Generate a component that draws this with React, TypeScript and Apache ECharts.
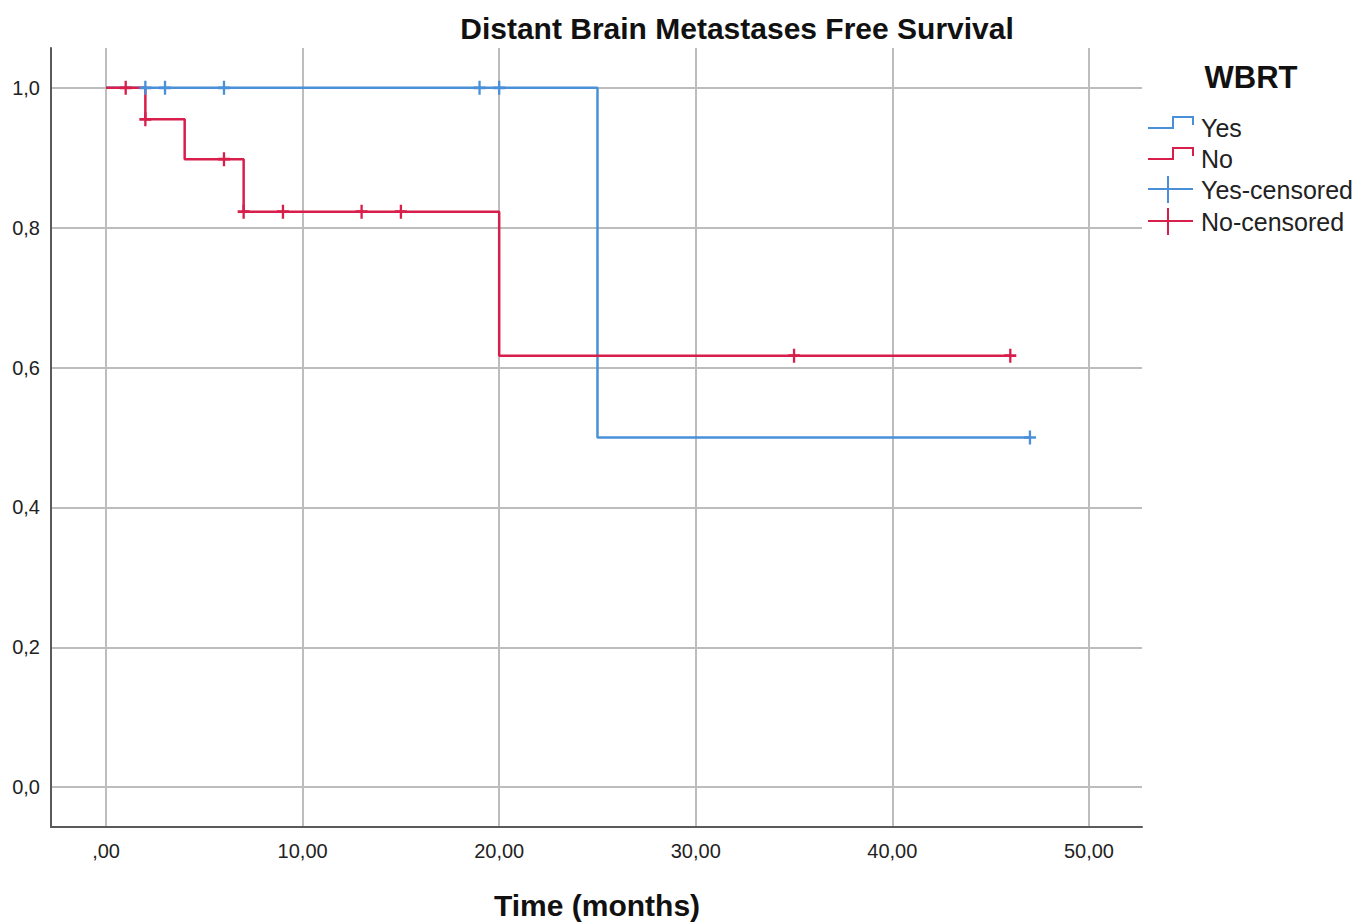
import React, { useEffect, useRef } from "react";
import * as echarts from "echarts";

// Kaplan-Meier step points (time, survival)
const yesTimes = [0, 25, 47];
const yesSurv = [1.0, 0.5, 0.5];
const noTimes = [0, 2, 4, 7, 20, 46];
const noSurv = [1.0, 0.955, 0.898, 0.823, 0.617, 0.617];

// Censored observations
const yesCensorTimes = [2, 3, 6, 19, 20, 47];
const yesCensorSurv = [1.0, 1.0, 1.0, 1.0, 1.0, 0.5];
const noCensorTimes = [1, 2, 6, 7, 9, 13, 15, 35, 46];
const noCensorSurv = [1.0, 0.955, 0.898, 0.823, 0.823, 0.823, 0.823, 0.617, 0.617];

const xTicks = [0, 10, 20, 30, 40, 50];
const yTicks = [0, 0.2, 0.4, 0.6, 0.8, 1.0];

const legendTitle = "WBRT";
const legendLabels = ["Yes", "No", "Yes-censored", "No-censored"];

const BLUE = "#4a90d9";
const RED = "#d81e4b";
const FONT = "Liberation Sans, Arial, sans-serif";

const zip = (a: number[], b: number[]) => a.map((v, i) => [v, b[i]]);

export default function App() {
  const ref = useRef<HTMLDivElement>(null);
  useEffect(() => {
    if (!ref.current) return;
    const chart = echarts.init(ref.current, null, { renderer: "svg" });
    const censorSymbol = "path://M0,7 L12,7 M6,0 L6,14";
    const legendY = [127, 158, 189, 221];
    const legendGraphics: any[] = [];
    legendLabels.forEach((lab, i) => {
      const y = legendY[i];
      const color = i % 2 === 0 ? BLUE : RED;
      if (i < 2) {
        legendGraphics.push({
          type: "polyline",
          shape: { points: [[1148, y + 1], [1173, y + 1], [1173, y - 10], [1193, y - 10], [1193, y - 2]] },
          style: { stroke: color, lineWidth: 2, fill: null },
        });
      } else {
        legendGraphics.push({
          type: "line",
          shape: { x1: 1148, y1: y, x2: 1193, y2: y },
          style: { stroke: color, lineWidth: 2 },
        });
        legendGraphics.push({
          type: "line",
          shape: { x1: 1168, y1: y - 13, x2: 1168, y2: y + 14 },
          style: { stroke: color, lineWidth: 2 },
        });
      }
      legendGraphics.push({
        type: "text",
        x: 1201,
        y: y + 1,
        style: { text: lab, font: `25px ${FONT}`, fill: "#222", textVerticalAlign: "middle", textAlign: "left" },
      });
    });

    chart.setOption({
      animation: false,
      backgroundColor: "#fff",
      grid: { left: 51, right: 229, top: 48, bottom: 97, containLabel: false },
      xAxis: {
        type: "value",
        min: -2.8,
        max: 52.7,
        axisLine: { show: true, onZero: false, lineStyle: { color: "#5a5a5a", width: 2 } },
        axisTick: { show: false, customValues: xTicks },
        axisLabel: {
          customValues: xTicks,
          margin: 14,
          fontSize: 20,
          fontFamily: FONT,
          color: "#222",
          formatter: (v: number) => (v === 0 ? ",00" : v.toFixed(2).replace(".", ",")),
        },
        splitLine: { show: true, lineStyle: { color: "#bdbdbd", width: 2 } },
      },
      yAxis: {
        type: "value",
        min: -0.057,
        max: 1.057,
        axisLine: { show: true, onZero: false, lineStyle: { color: "#5a5a5a", width: 2 } },
        axisTick: { show: false, customValues: yTicks },
        axisLabel: {
          customValues: yTicks,
          margin: 11,
          fontSize: 20,
          fontFamily: FONT,
          color: "#222",
          formatter: (v: number) => v.toFixed(1).replace(".", ","),
        },
        splitLine: { show: true, lineStyle: { color: "#bdbdbd", width: 2 } },
      },
      graphic: [
        {
          type: "text",
          x: 737,
          y: 28,
          style: {
            text: "Distant Brain Metastases Free Survival",
            font: `bold 30px ${FONT}`,
            fill: "#111",
            textAlign: "center",
            textVerticalAlign: "middle",
          },
        },
        {
          type: "text",
          x: 597,
          y: 905,
          style: {
            text: "Time (months)",
            font: `bold 30px ${FONT}`,
            fill: "#111",
            textAlign: "center",
            textVerticalAlign: "middle",
          },
        },
        {
          type: "text",
          x: 1251,
          y: 77,
          style: {
            text: legendTitle,
            font: `bold 31px ${FONT}`,
            fill: "#111",
            textAlign: "center",
            textVerticalAlign: "middle",
          },
        },
        ...legendGraphics,
      ],
      series: [
        {
          name: "Yes",
          type: "line",
          step: "end",
          data: zip(yesTimes, yesSurv),
          showSymbol: false,
          lineStyle: { color: BLUE, width: 2.5 },
          z: 2,
        },
        {
          name: "No",
          type: "line",
          step: "end",
          data: zip(noTimes, noSurv),
          showSymbol: false,
          lineStyle: { color: RED, width: 2.5 },
          z: 3,
        },
        {
          name: "Yes-censored",
          type: "scatter",
          data: zip(yesCensorTimes, yesCensorSurv),
          symbol: censorSymbol,
          symbolSize: [12, 14],
          itemStyle: { color: "none", borderColor: BLUE, borderWidth: 2.5, opacity: 1 },
          z: 4,
        },
        {
          name: "No-censored",
          type: "scatter",
          data: zip(noCensorTimes, noCensorSurv),
          symbol: censorSymbol,
          symbolSize: [12, 14],
          itemStyle: { color: "none", borderColor: RED, borderWidth: 2.5, opacity: 1 },
          z: 5,
        },
      ],
    });
    return () => chart.dispose();
  }, []);
  return <div ref={ref} style={{ position: "fixed", left: 0, top: 0, width: 1371, height: 924 }} />;
}
